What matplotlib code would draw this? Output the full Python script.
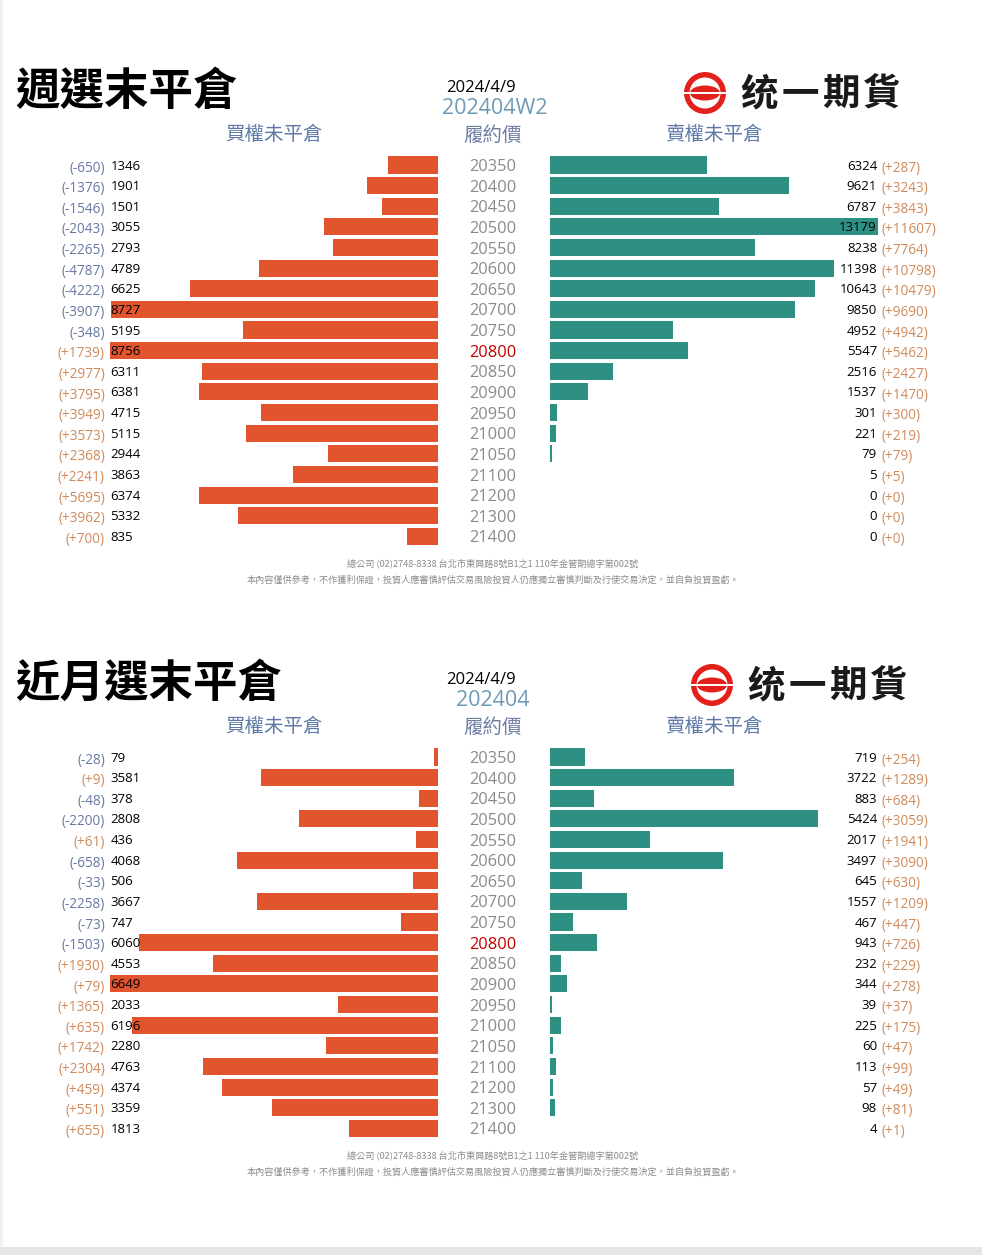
import matplotlib.pyplot as plt
import matplotlib.transforms as mtransforms
from matplotlib.patches import Circle, Ellipse, Rectangle

plt.rcParams['font.family'] = ['Noto Sans CJK TC', 'DejaVu Sans']
NUM_FONT = ['Open Sans', 'DejaVu Sans']

# ---- data ----
strikes = [20350, 20400, 20450, 20500, 20550, 20600, 20650, 20700, 20750, 20800,
           20850, 20900, 20950, 21000, 21050, 21100, 21200, 21300, 21400]
atm_strike = 20800

week_call = [1346, 1901, 1501, 3055, 2793, 4789, 6625, 8727, 5195, 8756,
             6311, 6381, 4715, 5115, 2944, 3863, 6374, 5332, 835]
week_call_chg = [-650, -1376, -1546, -2043, -2265, -4787, -4222, -3907, -348, 1739,
                 2977, 3795, 3949, 3573, 2368, 2241, 5695, 3962, 700]
week_put = [6324, 9621, 6787, 13179, 8238, 11398, 10643, 9850, 4952, 5547,
            2516, 1537, 301, 221, 79, 5, 0, 0, 0]
week_put_chg = [287, 3243, 3843, 11607, 7764, 10798, 10479, 9690, 4942, 5462,
                2427, 1470, 300, 219, 79, 5, 0, 0, 0]

month_call = [79, 3581, 378, 2808, 436, 4068, 506, 3667, 747, 6060,
              4553, 6649, 2033, 6196, 2280, 4763, 4374, 3359, 1813]
month_call_chg = [-28, 9, -48, -2200, 61, -658, -33, -2258, -73, -1503,
                  1930, 79, 1365, 635, 1742, 2304, 459, 551, 655]
month_put = [719, 3722, 883, 5424, 2017, 3497, 645, 1557, 467, 943,
             232, 344, 39, 225, 60, 113, 57, 98, 4]
month_put_chg = [254, 1289, 684, 3059, 1941, 3090, 630, 1209, 447, 726,
                 229, 278, 37, 175, 47, 99, 49, 81, 1]

W, H = 982, 1255
CALL_C = '#E2542E'
PUT_C = '#2E8F83'
HEAD_C = '#5B78A6'
NEG_C = '#6878A3'
POS_C = '#D08A5A'

fig = plt.figure(figsize=(W / 100, H / 100), dpi=100)
fig.patch.set_facecolor('white')

# full-figure overlay in pixel coordinates for titles / logo / footer
ov = fig.add_axes([0, 0, 1, 1], zorder=5)
ov.set_xlim(0, W)
ov.set_ylim(H, 0)
ov.axis('off')
ov.patch.set_alpha(0)
ov.add_patch(Rectangle((0, 1247), W, 8, color='#e6e6e6', lw=0))
ov.add_patch(Rectangle((0, 0), 3, 1247, color='#f2f2f2', lw=0))


def logo(cx, cy):
    ov.add_patch(Circle((cx, cy), 21, color='#E3211C', lw=0))
    ov.add_patch(Circle((cx, cy), 15.5, color='white', lw=0))
    ov.add_patch(Ellipse((cx, cy), 30, 15, color='#E3211C', lw=0))
    ov.add_patch(Rectangle((cx - 22, cy - 1.2), 44, 2.4, color='white', lw=0))
    for i, ch in enumerate('统一期貨'):
        ov.text(cx + 54 + i * 41, cy + 1, ch, fontsize=27, fontweight='bold',
                ha='center', va='center', color='#1a1a1a',
                family=['Noto Sans CJK SC', 'DejaVu Sans'])


def panel(top, title, contract, calls, call_chg, puts, put_chg, call_max, put_max):
    # top = pixel y of the title centre
    weekly = contract.endswith('W2')
    ov.text(15, top, title, fontsize=32, fontweight='bold', ha='left', va='center')
    ov.text(481, top - 4, '2024/4/9', fontsize=12, ha='center', va='center',
            family=NUM_FONT)
    ov.text(495 if weekly else 493, top + 17, contract, fontsize=15.5,
            ha='center', va='center', color='#6E9AB6', family=NUM_FONT)
    logo(705 if weekly else 712, top + 1)
    ov.text(274, top + 43, '買權未平倉', fontsize=14, ha='center', va='center', color=HEAD_C)
    ov.text(493, top + 43, '履約價', fontsize=14, ha='center', va='center', color='#6F7FA0')
    ov.text(714, top + 43, '賣權未平倉', fontsize=14, ha='center', va='center', color=HEAD_C)

    row0 = top + 73
    step = 20.63
    n = len(strikes)
    y_top = row0 - step / 2
    y_bot = row0 + step * (n - 1) + step / 2
    bottom = 1 - y_bot / H
    height = (y_bot - y_top) / H

    axc = fig.add_axes([110 / W, bottom, 328 / W, height])
    axp = fig.add_axes([550 / W, bottom, 328 / W, height])
    pos = list(range(n))
    axc.barh(pos, calls, height=0.83, color=CALL_C, lw=0)
    axp.barh(pos, puts, height=0.83, color=PUT_C, lw=0)
    axc.set_xlim(call_max, 0)
    axp.set_xlim(0, put_max)
    for ax in (axc, axp):
        ax.set_ylim(n - 0.5, -0.5)
        ax.axis('off')

    tc = mtransforms.blended_transform_factory(fig.transFigure, axc.transData)
    tp = mtransforms.blended_transform_factory(fig.transFigure, axp.transData)
    for i in pos:
        k = strikes[i]
        axc.text(493 / W, i + 0.1, str(k), transform=tc, fontsize=11.8, ha='center',
                 va='center', color='#C00000' if k == atm_strike else '#8a8a8a',
                 family=NUM_FONT)
        axc.text(110.5 / W, i + 0.05, str(calls[i]), transform=tc, fontsize=9.5,
                 ha='left', va='center', color='black', zorder=3, family=NUM_FONT)
        c = call_chg[i]
        axc.text(105 / W, i + 0.15, '(%+d)' % c, transform=tc, fontsize=9.8,
                 ha='right', va='center', color=NEG_C if c < 0 else POS_C,
                 family=NUM_FONT)
        axp.text(877 / W, i + 0.05, str(puts[i]), transform=tp, fontsize=9.5,
                 ha='right', va='center', color='black', zorder=3, family=NUM_FONT)
        axp.text(881 / W, i + 0.15, '(%+d)' % put_chg[i], transform=tp, fontsize=9.8,
                 ha='left', va='center', color=POS_C, family=NUM_FONT)

    fy = y_bot + 17
    ov.text(493, fy, '總公司 (02)2748-8338 台北市東興路8號B1之1 110年金管期總字第002號',
            fontsize=6.6, ha='center', va='center', color='#8c8c8c')
    ov.text(493, fy + 16, '本內容僅供參考，不作獲利保證，投資人應審慎評估交易風險投資人仍應獨立審慎判斷及行使交易決定，並自負投資盈虧。',
            fontsize=6.6, ha='center', va='center', color='#8c8c8c')


panel(92, '週選末平倉', '202404W2', week_call, week_call_chg, week_put, week_put_chg,
      max(week_call), max(week_put))
shared = max(max(month_call), max(month_put))
panel(684, '近月選末平倉', '202404', month_call, month_call_chg, month_put, month_put_chg,
      shared, shared)

fig.savefig('out.png', dpi=100, facecolor='white')
